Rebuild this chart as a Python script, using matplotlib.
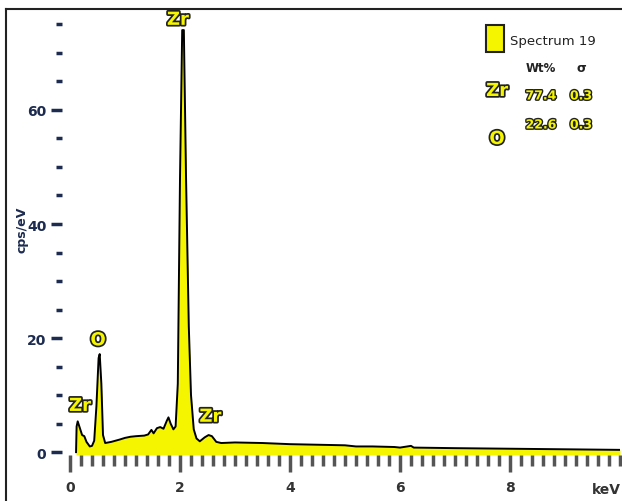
import matplotlib
matplotlib.use('Agg')
import matplotlib.pyplot as plt
import matplotlib.patheffects as pe
from matplotlib.patches import Rectangle
from matplotlib.lines import Line2D
from matplotlib.ticker import MultipleLocator

# espectro EDS
energia = [0.11, 0.12, 0.14, 0.18, 0.22, 0.26, 0.30, 0.36, 0.40, 0.44, 0.48, 0.52,
           0.54, 0.57, 0.60, 0.64, 0.75, 0.90, 1.00, 1.10, 1.20, 1.35, 1.42, 1.48,
           1.52, 1.58, 1.64, 1.70, 1.76, 1.79, 1.83, 1.88, 1.92, 1.96, 2.00, 2.04,
           2.07, 2.11, 2.16, 2.20, 2.25, 2.30, 2.36, 2.45, 2.52, 2.58, 2.66, 2.75,
           3.00, 3.50, 4.00, 4.50, 5.00, 5.20, 5.50, 5.90, 6.00, 6.20, 6.25, 7.00,
           8.00, 9.00, 10.0]
cuentas = [0.0, 4.5, 5.4, 4.2, 3.0, 2.8, 1.8, 1.0, 1.1, 2.0, 8.0, 16.5,
           17.2, 12.0, 3.0, 1.6, 1.8, 2.2, 2.5, 2.7, 2.8, 2.9, 3.1, 3.9,
           3.3, 4.2, 4.4, 4.1, 5.5, 6.1, 5.0, 4.0, 4.5, 12.0, 48.0, 74.0,
           74.0, 48.0, 22.0, 10.0, 4.0, 2.4, 1.9, 2.6, 3.0, 2.8, 1.8, 1.6,
           1.7, 1.6, 1.4, 1.3, 1.2, 1.0, 1.0, 0.9, 0.8, 1.1, 0.8, 0.7,
           0.6, 0.5, 0.4]

# etiquetas de elementos (texto, keV, cps/eV)
etiquetas = [('Zr', 0.18, 8.1), ('O', 0.51, 19.6), ('Zr', 1.96, 75.8), ('Zr', 2.55, 6.2)]

# tabla de la leyenda
elementos = ['Zr', 'O']
peso = ['77.4', '22.6']
sigma = ['0.3', '0.3']

amarillo = '#f5f500'
azul = '#1c2b4f'

fig = plt.figure(figsize=(6.22, 5.02), dpi=100)
W, H = 622, 502


def fx(px):
    return px / W


def fy(py):
    return 1 - py / H


ax = fig.add_axes([fx(61.75), fy(456), (620 - 61.75) / W, 446 / H])
ax.fill_between(energia, cuentas, -0.5, color=amarillo, lw=0)
ax.plot(energia, cuentas, color='black', lw=1.4)
ax.set_xlim(-0.15, 10)
ax.set_ylim(-0.5, 77.7)

for s in ax.spines.values():
    s.set_visible(False)

ax.xaxis.set_major_locator(MultipleLocator(2))
ax.xaxis.set_minor_locator(MultipleLocator(0.2))
ax.yaxis.set_major_locator(MultipleLocator(20))
ax.yaxis.set_minor_locator(MultipleLocator(5))
ax.tick_params(axis='x', which='major', length=12, width=2.5, color='#555555',
               labelsize=10, labelcolor='#333333', pad=6)
ax.tick_params(axis='x', which='minor', length=8, width=2.5, color='#555555')
ax.tick_params(axis='y', which='major', length=8, width=2.5, color=azul,
               labelsize=10, labelcolor=azul, pad=3)
ax.tick_params(axis='y', which='minor', length=4, width=2.5, color=azul)
ax.set_xticks([0, 2, 4, 6, 8])
for lab in ax.get_xticklabels() + ax.get_yticklabels():
    lab.set_fontweight('bold')

fig.text(fx(22), fy(230), 'cps/eV', rotation=90, ha='center', va='center',
         fontsize=9, fontweight='bold', color=azul)
fig.text(fx(606), fy(490), 'keV', ha='center', va='center',
         fontsize=10, fontweight='bold', color='#333333')

borde = [pe.withStroke(linewidth=2.5, foreground='#222222')]
for texto, x, y in etiquetas:
    ax.text(x, y, texto, ha='center', va='center', fontsize=13, fontweight='bold',
            color=amarillo, path_effects=borde)

# leyenda
fig.add_artist(Rectangle((fx(486), fy(53)), 18 / W, 27 / H, transform=fig.transFigure,
                         facecolor=amarillo, edgecolor='#222222', lw=1.5))
fig.text(fx(510), fy(42), 'Spectrum 19', ha='left', va='center', fontsize=9.5,
         color='#222222')
fig.text(fx(541), fy(69), 'Wt%', ha='center', va='center', fontsize=8.5,
         fontweight='bold', color='#222222')
fig.text(fx(581), fy(69), 'σ', ha='center', va='center', fontsize=9,
         fontweight='bold', color='#222222')
borde2 = [pe.withStroke(linewidth=2, foreground='#222222')]
filas = [97, 126]
filas_el = [92, 140]
for i, el in enumerate(elementos):
    fig.text(fx(497), fy(filas_el[i]), el, ha='center', va='center', fontsize=13,
             fontweight='bold', color=amarillo, path_effects=borde)
    fig.text(fx(541), fy(filas[i]), peso[i], ha='center', va='center', fontsize=9,
             fontweight='bold', color=amarillo, path_effects=borde2)
    fig.text(fx(581), fy(filas[i]), sigma[i], ha='center', va='center', fontsize=9,
             fontweight='bold', color=amarillo, path_effects=borde2)

# marco de la figura
fig.add_artist(Line2D([fx(6), 1], [fy(10), fy(10)], color='#222222', lw=1.5))
fig.add_artist(Line2D([fx(6), fx(6)], [fy(10), 0], color='#222222', lw=1.5))

fig.savefig('out.png', dpi=100)
